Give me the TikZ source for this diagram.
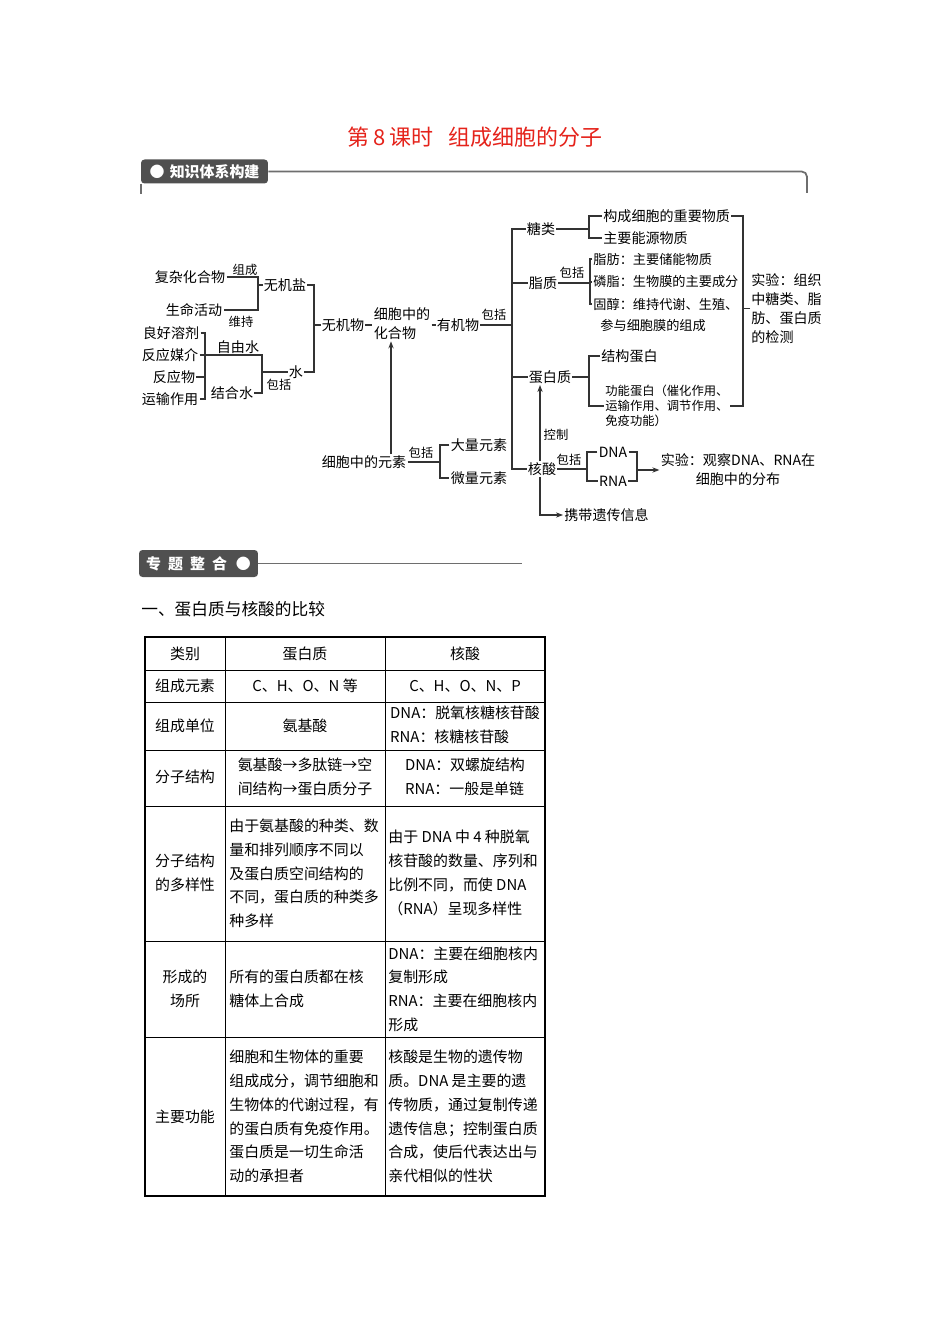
\documentclass[tikz,border=0pt]{standalone}
\usepackage{fontspec}
\setmainfont{Noto Sans CJK SC}
\usetikzlibrary{arrows.meta}
\definecolor{kmLine}{HTML}{333333}
\definecolor{kmTab}{HTML}{505050}
\definecolor{kmFrame}{HTML}{6E6E6E}
\definecolor{kmRed}{HTML}{E5231B}
\tikzset{
  km line/.style={draw=kmLine, line width=0.6pt},
  km arrow/.style={draw=kmLine, line width=0.6pt, -{Stealth[length=4pt,width=3pt]}},
  km text/.style={font=\fontsize{8}{10.8}\selectfont, inner sep=0.6pt, align=left},
  km item/.style={font=\fontsize{7.5}{9}\selectfont, inner sep=0.6pt, align=left},
  km small/.style={font=\fontsize{7}{8}\selectfont, inner sep=0.5pt},
  km tab/.style={fill=kmTab, text=white, rounded corners=2pt, inner sep=0pt, font=\fontsize{8.5}{10}\selectfont\bfseries},
  km frame/.style={draw=kmFrame, line width=1pt},
  km cell/.style={font=\fontsize{8.5}{13.5}\selectfont, inner sep=0pt, align=left},
  km rule/.style={draw=black, line width=0.5pt},
  km border/.style={draw=black, line width=1pt},
}

\begin{document}
\begin{tikzpicture}[x=0.02cm,y=-0.02cm]
  \fill[white] (0,0) rectangle (950,1344);
  \useasboundingbox (0,0) rectangle (950,1344);

  % title and section tabs
  \node[font=\fontsize{12.5}{14}\selectfont, text=kmRed] (title) at (475,137) {第\,8\,课时\hspace{0.7em}组成细胞的分子};
  \node[km tab, minimum width=2.54cm, minimum height=0.48cm] (tabA) at (204.5,171.5) {●\hspace{3pt}知识体系构建};
  \draw[km frame, rounded corners=3pt] (tabA.east) -| (807,193);
  \draw[km frame] (tabA.south west) -- ++(0,10);

  % bracket columns
  \coordinate (brA) at (258,0);
  \coordinate (brB) at (314,0);
  \coordinate (brC) at (262,0);
  \coordinate (brD) at (205,0);
  \coordinate (brE) at (512,0);
  \coordinate (brF) at (589,0);
  \coordinate (brG) at (590,0);
  \coordinate (brH) at (589,0);
  \coordinate (brI) at (587,0);
  \coordinate (brJ) at (637,0);
  \coordinate (brK) at (743,0);
  \coordinate (brL) at (440,0);
  \coordinate (arrA) at (391,0);
  \coordinate (arrB) at (540,0);

  % inorganic side
  \node[km text] (complex) at (190,277) {复杂化合物};
  \node[km text] (activity) at (194,310) {生命活动};
  \node[km small] (lblForm) at (245,270) {组成};
  \node[km small] (lblKeep) at (241,322) {维持};
  \node[km text] (salt) at (285,285) {无机盐};
  \node[km text] (water) at (296,372) {水};
  \node[km text] (freewater) at (238,347) {自由水};
  \node[km text] (boundwater) at (232,393) {结合水};
  \node[km small] (lblInclA) at (279,385) {包括};
  \node[km text] (solvent) at (171,333) {良好溶剂};
  \node[km text] (medium) at (170,355) {反应媒介};
  \node[km text] (reactant) at (174,377) {反应物};
  \node[km text] (transport) at (170,399) {运输作用};
  \node[km text] (inorganic) at (343,325) {无机物};
  \node[km text] (compound) at (402,324) {细胞中的\\化合物};
  \node[km text] (organic) at (458,325) {有机物};
  \node[km small] (lblInclB) at (494,315) {包括};

  \draw[km line] (complex.east) -- (complex.east -| brA) |- (activity.east);
  \draw[km line] (salt.west) -- (salt.west -| brA);
  \draw[km line] (salt.east) -- (salt.east -| brB) |- (water.east);
  \draw[km line] (inorganic.west) -- (inorganic.west -| brB);
  \draw[km line] (medium.east) -- (medium.east -| brC) |- (boundwater.east);
  \draw[km line] (water.west) -- (water.west -| brC);
  \draw[km line] (solvent.east) -- (solvent.east -| brD) |- (transport.east);
  \draw[km line] (reactant.east) -- (reactant.east -| brD);
  \draw[km line] (inorganic.east) -- (inorganic.east -| compound.west);
  \draw[km line] (organic.west -| compound.east) -- (organic.west);
  \draw[km line] (organic.east) -- (organic.east -| brE);

  % elements
  \node[km text] (elements) at (364,462) {细胞中的元素};
  \node[km small] (lblInclC) at (421,453) {包括};
  \node[km text] (major) at (479,445) {大量元素};
  \node[km text] (trace) at (479,478) {微量元素};
  \draw[km arrow] (elements.north -| arrA) -- (compound.south -| arrA);
  \draw[km line] (elements.east) -- (elements.east -| brL);
  \draw[km line] (major.west) -- (major.west -| brL) |- (trace.west);

  % organic side
  \node[km text] (sugar) at (541,229) {糖类};
  \node[km text] (lipid) at (543,283) {脂质};
  \node[km text] (protein) at (550,377) {蛋白质};
  \node[km text] (nucleic) at (542,469) {核酸};
  \draw[km line] (sugar.west) -- (sugar.west -| brE) |- (nucleic.west);
  \draw[km line] (lipid.west) -- (lipid.west -| brE);
  \draw[km line] (protein.west) -- (protein.west -| brE);

  \node[km text, anchor=west] (sugarA) at (602,216) {构成细胞的重要物质};
  \node[km text, anchor=west] (sugarB) at (602,238) {主要能源物质};
  \draw[km line] (sugarA.west) -- (sugarA.west -| brF) |- (sugarB.west);
  \draw[km line] (sugar.east) -- (sugar.east -| brF);

  \node[km small] (lblInclD) at (572,273) {包括};
  \node[km item, anchor=west] (fat) at (592,259) {脂肪：主要储能物质};
  \node[km item, anchor=west] (phospho) at (592,282) {磷脂：生物膜的主要成分};
  \node[km item, anchor=west] (sterol) at (592,304) {固醇：维持代谢、生殖、};
  \node[km item, anchor=west] (sterolB) at (599,326) {参与细胞膜的组成};
  \draw[km line] (lipid.east) -- (lipid.east -| brG);
  \draw[km line] (fat.west) -- (fat.west -| brG) |- (sterol.west);
  \draw[km line] (phospho.west) -- (phospho.west -| brG);

  \node[km text, anchor=west] (structP) at (600,356) {结构蛋白};
  \node[km text, font=\fontsize{7}{8.5}\selectfont, anchor=west] (funcP) at (604,406) {功能蛋白（催化作用、\\运输作用、调节作用、\\免疫功能）};
  \draw[km line] (structP.west) -- (structP.west -| brH) |- (funcP.west);
  \draw[km line] (protein.east) -- (protein.east -| brH);

  \node[km text, anchor=west] (testA) at (750,308.5) {实验：组织\\中糖类、脂\\肪、蛋白质\\的检测};
  \draw[km line] (sugarA.east) -- (sugarA.east -| brK) |- (funcP.east);
  \draw[km line] (testA.west) -- (testA.west -| brK);

  % nucleic acid
  \node[km small] (lblCtrl) at (556,435) {控制};
  \node[km small] (lblInclE) at (569,460) {包括};
  \node[km text] (dna) at (613,452) {DNA};
  \node[km text] (rna) at (613,481) {RNA};
  \node[km text, align=center] (testB) at (738,470) {实验：观察DNA、RNA在\\细胞中的分布};
  \node[km text, anchor=west] (carry) at (563,515) {携带遗传信息};
  \draw[km arrow] (nucleic.north -| arrB) -- (protein.south -| arrB);
  \draw[km arrow] (nucleic.south -| arrB) |- (carry.west);
  \draw[km line] (nucleic.east) -- (nucleic.east -| brI);
  \draw[km line] (dna.west) -- (dna.west -| brI) |- (rna.west);
  \draw[km line] (dna.east) -- (dna.east -| brJ) |- (rna.east);
  \draw[km arrow] (testB.west -| brJ) -- (testB.west);

  % second section
  \node[km tab, minimum width=2.38cm, minimum height=0.54cm] (tabB) at (198.5,563.5) {专\hspace{4pt}题\hspace{4pt}整\hspace{4pt}合\hspace{5pt}●};
  \draw[km frame] (tabB.east) -- (522,563.5);
  \node[font=\fontsize{9.5}{11}\selectfont, anchor=west, inner sep=0pt] (heading) at (141,609) {一、蛋白质与核酸的比较};

  % table rules
  \draw[km rule] (145,670) -- (545,670);
  \draw[km rule] (145,702) -- (545,702);
  \draw[km rule] (145,750) -- (545,750);
  \draw[km rule] (145,806) -- (545,806);
  \draw[km rule] (145,941) -- (545,941);
  \draw[km rule] (145,1037) -- (545,1037);
  \draw[km rule] (225,637) -- (225,1196);
  \draw[km rule] (385,637) -- (385,1196);
  \draw[km border] (145,637) rectangle (545,1196);

  % table cells
  \node[km cell] (hA) at (185,654) {类别};
  \node[km cell] (hB) at (305,654) {蛋白质};
  \node[km cell] (hC) at (465,654) {核酸};
  \node[km cell] (eA) at (185,686) {组成元素};
  \node[km cell] (eB) at (305,686) {C、H、O、N 等};
  \node[km cell] (eC) at (465,686) {C、H、O、N、P};
  \node[km cell] (uA) at (185,726) {组成单位};
  \node[km cell] (uB) at (305,726) {氨基酸};
  \node[km cell] (uC) at (465,725) {DNA：脱氧核糖核苷酸\\RNA：核糖核苷酸};
  \node[km cell] (sA) at (185,777) {分子结构};
  \node[km cell] (sB) at (305,777) {氨基酸→多肽链→空\\间结构→蛋白质分子};
  \node[km cell] (sC) at (465,777) {DNA：双螺旋结构\\RNA：一般是单链};
  \node[km cell, align=center] (vA) at (185,873) {分子结构\\的多样性};
  \node[km cell, anchor=west] (vB) at (229,873.5) {由于氨基酸的种类、数\\量和排列顺序不同以\\及蛋白质空间结构的\\不同，蛋白质的种类多\\种多样};
  \node[km cell, anchor=west] (vC) at (388,873) {由于 DNA 中 4 种脱氧\\核苷酸的数量、序列和\\比例不同，而使 DNA\\（RNA）呈现多样性};
  \node[km cell, align=center] (pA) at (185,988.5) {形成的\\场所};
  \node[km cell, anchor=west] (pB) at (229,988.5) {所有的蛋白质都在核\\糖体上合成};
  \node[km cell, anchor=west] (pC) at (388,989) {DNA：主要在细胞核内\\复制形成\\RNA：主要在细胞核内\\形成};
  \node[km cell] (fA) at (185,1117) {主要功能};
  \node[km cell, anchor=west] (fB) at (229,1116.5) {细胞和生物体的重要\\组成成分，调节细胞和\\生物体的代谢过程，有\\的蛋白质有免疫作用。\\蛋白质是一切生命活\\动的承担者};
  \node[km cell, anchor=west] (fC) at (388,1116.5) {核酸是生物的遗传物\\质。DNA 是主要的遗\\传物质，通过复制传递\\遗传信息；控制蛋白质\\合成，使后代表达出与\\亲代相似的性状};
\end{tikzpicture}
\end{document}
